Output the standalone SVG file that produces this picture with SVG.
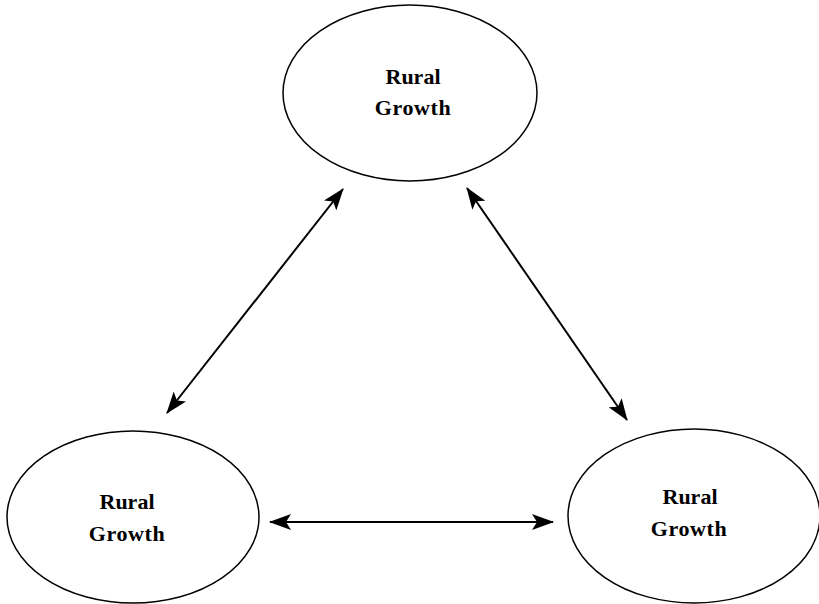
<svg xmlns="http://www.w3.org/2000/svg" width="819" height="604" viewBox="0 0 819 604">
<style>
.node ellipse{fill:#fff;stroke:#000;stroke-width:1.5}
.node text{font-family:"Liberation Serif","Times New Roman",serif;font-weight:bold;font-size:22px;fill:#000;text-anchor:middle}
.node .g{letter-spacing:0.6px}
.conn line{stroke:#000;stroke-width:2;fill:none}
</style>
<defs>
<marker id="ah" viewBox="0 0 22 16" refX="21" refY="8" markerWidth="22" markerHeight="16" markerUnits="userSpaceOnUse" orient="auto-start-reverse">
<path d="M0,0 L22,8 L0,16 L5,8 Z" fill="#000"/>
</marker>
</defs>
<g id="node-top" class="node">
<ellipse cx="410" cy="93" rx="127" ry="88"/>
<text x="413" y="84">Rural</text>
<text class="g" x="413" y="115">Growth</text>
</g>
<g id="node-left" class="node">
<ellipse cx="133" cy="517" rx="126" ry="86"/>
<text x="127" y="509">Rural</text>
<text class="g" x="127" y="541">Growth</text>
</g>
<g id="node-right" class="node">
<ellipse cx="694" cy="516" rx="126" ry="87"/>
<text x="690" y="504">Rural</text>
<text class="g" x="689" y="536">Growth</text>
</g>
<g id="connectors" class="conn">
<line x1="167" y1="413" x2="343" y2="189" marker-start="url(#ah)" marker-end="url(#ah)"/>
<line x1="467" y1="188" x2="627" y2="420" marker-start="url(#ah)" marker-end="url(#ah)"/>
<line x1="270" y1="522" x2="553" y2="522" marker-start="url(#ah)" marker-end="url(#ah)"/>
</g>
</svg>
